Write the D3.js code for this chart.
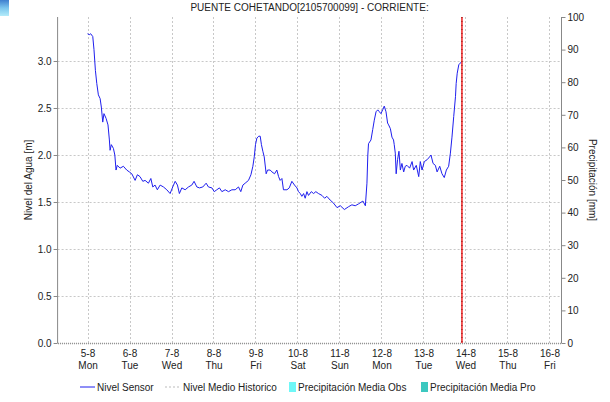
<!DOCTYPE html>
<html>
<head>
<meta charset="utf-8">
<script src="https://d3js.org/d3.v7.min.js"></script>
<style>
  body { margin: 0; background: #fff; }
  text { font-family: "Liberation Sans", Arial, sans-serif; font-size: 10px; fill: #222; }
  .grid line { stroke: #c8c8c8; stroke-dasharray: 2,2; }
  .axis path, .axis line { stroke: #888; }
</style>
</head>
<body>
<svg class="target" width="610" height="402"></svg>
<script>
  // hours since 5-8 00:00, level [m]
  const sensorHours = [0, 1.0, 1.8, 3.0, 3.7, 4.5, 5.3, 6.2, 7.2, 7.9, 8.7, 9.4, 10.6, 11.7, 12.5, 12.9, 13.6, 14.8, 15.6, 16.3,
    17.0, 18.6, 20.5, 22.4, 23.9, 25.3, 27.2, 28.5, 30.0, 31.6, 32.9, 34.8, 36.2, 37.3, 38.6, 39.9, 41.5, 43.4, 45.3, 47.2,
    48.7, 50.1, 51.4, 52.5, 53.9, 55.8, 57.7, 59.6, 60.9, 62.5, 64.0, 65.9, 67.8, 69.1, 71.1, 72.4, 73.9, 75.4, 76.8, 78.7,
    80.6, 82.5, 84.4, 86.3, 87.6, 88.8, 90.1, 92.0, 93.4, 94.5, 95.3, 96.0, 96.8, 97.9, 98.7, 99.4, 100.2, 101.0, 102.1, 102.9,
    104.4, 105.4, 106.9, 108.2, 109.2, 110.1, 111.1, 112.0, 114.0, 115.3, 116.8, 118.3, 119.7, 120.6, 121.6, 122.5, 123.5, 124.4, 125.4, 126.3,
    127.9, 129.2, 130.5, 132.0, 134.0, 135.5, 136.8, 138.7, 140.5, 142.6, 144.5, 146.8, 149.2, 151.1, 153.0, 154.9, 157.4, 158.8, 159.7, 160.2,
    160.6, 162.0, 163.0, 163.9, 164.9, 165.9, 166.8, 167.7, 168.7, 169.6, 170.6, 171.5, 172.1, 173.1, 174.0, 174.9, 175.3, 175.9, 176.4, 177.2,
    178.0, 178.8, 179.7, 180.7, 181.6, 182.6, 184.1, 185.5, 186.4, 187.9, 189.3, 190.2, 191.2, 192.5, 194.1, 195.5, 196.3, 197.5, 198.8, 199.8,
    201.3, 202.6, 203.9, 205.1, 206.4, 207.4, 208.3, 209.3, 210.3, 210.7, 211.3, 212.2, 213.2, 213.7];
  const sensorLevel = [3.29, 3.28, 3.29, 3.26, 3.12, 2.90, 2.76, 2.64, 2.60, 2.51, 2.35, 2.44, 2.39, 2.32, 2.16, 2.05, 2.11, 2.07, 2.00, 1.84,
    1.89, 1.86, 1.88, 1.84, 1.82, 1.80, 1.73, 1.79, 1.77, 1.72, 1.73, 1.70, 1.75, 1.66, 1.68, 1.63, 1.68, 1.66, 1.63, 1.59,
    1.66, 1.72, 1.68, 1.59, 1.65, 1.63, 1.66, 1.68, 1.72, 1.66, 1.65, 1.66, 1.70, 1.66, 1.65, 1.61, 1.63, 1.65, 1.61, 1.63,
    1.61, 1.63, 1.63, 1.66, 1.61, 1.68, 1.70, 1.73, 1.79, 1.88, 1.98, 2.11, 2.18, 2.20, 2.20, 2.11, 2.04, 1.98, 1.80, 1.84,
    1.84, 1.82, 1.80, 1.84, 1.77, 1.73, 1.75, 1.63, 1.63, 1.65, 1.72, 1.68, 1.65, 1.61, 1.59, 1.56, 1.59, 1.54, 1.61, 1.57,
    1.61, 1.59, 1.61, 1.59, 1.57, 1.54, 1.56, 1.52, 1.49, 1.44, 1.46, 1.42, 1.45, 1.47, 1.46, 1.48, 1.51, 1.46, 1.70, 2.00,
    2.12, 2.16, 2.27, 2.37, 2.46, 2.48, 2.46, 2.44, 2.48, 2.52, 2.46, 2.34, 2.32, 2.28, 2.19, 2.16, 2.11, 2.02, 1.80, 1.95,
    2.04, 1.84, 1.91, 1.82, 1.88, 1.89, 1.86, 1.93, 1.84, 1.89, 1.77, 1.93, 1.84, 1.93, 1.95, 1.98, 2.00, 1.91, 1.89, 1.82,
    1.88, 1.80, 1.76, 1.84, 1.88, 2.02, 2.19, 2.41, 2.62, 2.76, 2.87, 2.96, 2.98, 2.99];
  const levelTicks = [0, 0.5, 1.0, 1.5, 2.0, 2.5, 3.0];
  const rainTicks = [0, 10, 20, 30, 40, 50, 60, 70, 80, 90, 100];
  const nowHour = 214;
  const legendItems = ["Nivel Sensor", "Nivel Medio Historico", "Precipitación Media Obs", "Precipitación Media Pro"];

  const day0 = Date.UTC(2019, 7, 5);
  const toDate = h => new Date(day0 + h * 3600e3);

  const svg = d3.select(".target");
  const pLeft = 57.6, pRight = 561.5, pTop = 17, pBottom = 343;

  // little icon top-left
  const grad = svg.append("defs").append("linearGradient")
      .attr("id", "ico").attr("x1", 0).attr("y1", 0).attr("x2", 0).attr("y2", 1);
  grad.append("stop").attr("offset", "0").attr("stop-color", "#3f7fcf");
  grad.append("stop").attr("offset", "0.5").attr("stop-color", "#7cc6ee");
  grad.append("stop").attr("offset", "1").attr("stop-color", "#b4ecfa");
  svg.append("rect").attr("x", 0).attr("y", 0).attr("width", 9).attr("height", 16).attr("fill", "url(#ico)");

  const x = d3.scaleUtc()
      .domain([toDate(-17.1), toDate(-17.1 + 288)])
      .range([pLeft, pRight]);
  const y = d3.scaleLinear().domain([0, 3.468]).range([pBottom, pTop]);
  const y2 = d3.scaleLinear().domain([0, 100]).range([pBottom, pTop]);

  const days = d3.utcDay.range(toDate(0), toDate(12 * 24));

  // grid
  const grid = svg.append("g").attr("class", "grid");
  grid.selectAll(".h").data(levelTicks.slice(1)).enter().append("line")
      .attr("x1", pLeft).attr("x2", pRight)
      .attr("y1", d => Math.round(y(d)) + 0.5).attr("y2", d => Math.round(y(d)) + 0.5);
  grid.selectAll(".v").data(days).enter().append("line")
      .attr("x1", d => Math.round(x(d)) + 0.5).attr("x2", d => Math.round(x(d)) + 0.5)
      .attr("y1", pTop).attr("y2", pBottom);

  // axes
  const yAxisL = svg.append("g").attr("class", "axis")
      .attr("transform", `translate(${pLeft},0)`)
      .call(d3.axisLeft(y).tickValues(levelTicks).tickFormat(d3.format(".1f")).tickSize(4).tickPadding(2));
  yAxisL.select(".domain").attr("d", `M0,${pTop}V${pBottom}`);
  const yAxisR = svg.append("g").attr("class", "axis")
      .attr("transform", `translate(${pRight},0)`)
      .call(d3.axisRight(y2).tickValues(rainTicks).tickSize(4).tickPadding(2));
  yAxisR.select(".domain").attr("d", `M0,${pTop}V${pBottom}`);

  const xAxis = svg.append("g").attr("class", "axis")
      .attr("transform", `translate(0,${pBottom})`)
      .call(d3.axisBottom(x).tickValues(days).tickSize(0).tickFormat(""));
  xAxis.select(".domain").attr("stroke", "#555").attr("stroke-width", 1.5).attr("stroke-dasharray", "1,1");
  xAxis.selectAll(".tick").each(function(d) {
    const t = d3.select(this).append("text").attr("text-anchor", "middle").attr("fill", "#222");
    t.append("tspan").attr("x", 0).attr("y", 14).text(d3.utcFormat("%-d-%-m")(d));
    t.append("tspan").attr("x", 0).attr("y", 26).text(d3.utcFormat("%a")(d));
  });

  // sensor line
  const pts = sensorHours.map((h, i) => [toDate(h), sensorLevel[i]]);
  svg.append("path").datum(pts)
      .attr("fill", "none").attr("stroke", "#1f1fee").attr("stroke-width", 1)
      .attr("d", d3.line().x(d => x(d[0])).y(d => y(d[1])));

  // current time marker
  const nx = x(toDate(nowHour));
  svg.append("line").attr("x1", nx).attr("x2", nx).attr("y1", pTop).attr("y2", pBottom)
      .attr("stroke", "#ee2222").attr("stroke-width", 1.5);
  svg.append("line").attr("x1", nx).attr("x2", nx).attr("y1", pTop).attr("y2", pBottom)
      .attr("stroke", "#8a1010").attr("stroke-width", 1).attr("stroke-dasharray", "1,3");

  // titles
  svg.append("text").attr("x", (pLeft + pRight) / 2).attr("y", 11).attr("text-anchor", "middle")
      .text("PUENTE COHETANDO[2105700099] - CORRIENTE:");
  svg.append("text").attr("transform", `translate(32,${(pTop + pBottom) / 2}) rotate(-90)`)
      .attr("text-anchor", "middle").text("Nivel del Agua [m]");
  svg.append("text").attr("transform", `translate(589,${(pTop + pBottom) / 2}) rotate(90)`)
      .attr("text-anchor", "middle").text("Precipitación [mm]");

  // legend
  const ly = 387;
  const lg = svg.append("g");
  lg.append("line").attr("x1", 80).attr("x2", 95).attr("y1", ly).attr("y2", ly).attr("stroke", "#1f1fee");
  lg.append("text").attr("x", 97).attr("y", ly + 3.5).text(legendItems[0]);
  lg.append("line").attr("x1", 165).attr("x2", 180).attr("y1", ly).attr("y2", ly)
      .attr("stroke", "#bbb").attr("stroke-dasharray", "2,2");
  lg.append("text").attr("x", 183).attr("y", ly + 3.5).text(legendItems[1]);
  lg.append("rect").attr("x", 289).attr("y", ly - 5).attr("width", 7).attr("height", 10).attr("fill", "#6ff7f7");
  lg.append("text").attr("x", 298).attr("y", ly + 3.5).text(legendItems[2]);
  lg.append("rect").attr("x", 421).attr("y", ly - 5).attr("width", 7).attr("height", 10).attr("fill", "#3cc8c0");
  lg.append("text").attr("x", 430).attr("y", ly + 3.5).text(legendItems[3]);
</script>
</body>
</html>
